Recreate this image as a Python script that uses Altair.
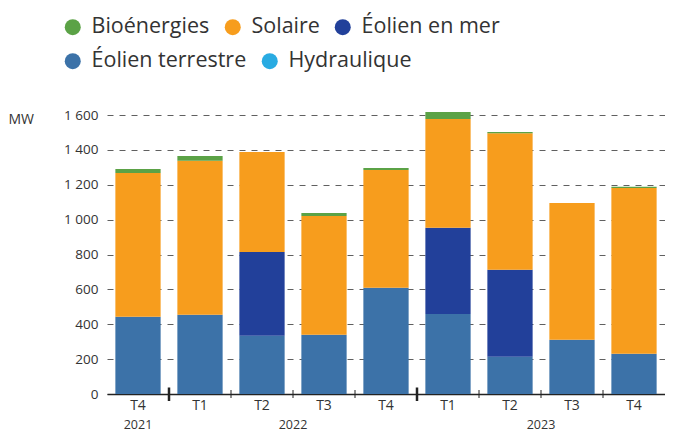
import altair as alt
import pandas as pd

periods = ["T4 2021", "T1 2022", "T2 2022", "T3 2022", "T4 2022",
           "T1 2023", "T2 2023", "T3 2023", "T4 2023"]
eolien_terrestre = [443, 454, 334, 340, 609, 459, 214, 311, 231]
eolien_mer = [0, 0, 481, 0, 0, 494, 498, 0, 0]
solaire = [825, 883, 573, 681, 675, 624, 784, 785, 951]
bioenergies = [23, 28, 0, 17, 12, 40, 6, 0, 6]
hydraulique = [0, 0, 0, 0, 0, 0, 0, 0, 0]

filieres = ["Bioénergies", "Solaire", "Éolien en mer", "Éolien terrestre", "Hydraulique"]
colors = ["#5ba246", "#f79d1d", "#22409a", "#3c72a8", "#29abe2"]
legend_row1 = ["Bioénergies", "Solaire", "Éolien en mer"]
legend_row2 = ["Éolien terrestre", "Hydraulique"]
row2_colors = ["#3c72a8", "#29abe2"]
stack_rank = {"Éolien terrestre": 0, "Hydraulique": 1, "Éolien en mer": 2,
              "Solaire": 3, "Bioénergies": 4}

series = {
    "Éolien terrestre": eolien_terrestre,
    "Éolien en mer": eolien_mer,
    "Solaire": solaire,
    "Bioénergies": bioenergies,
    "Hydraulique": hydraulique,
}

rows = []
for name, vals in series.items():
    for p, v in zip(periods, vals):
        rows.append({"period": p, "filiere": name, "mw": v, "rank": stack_rank[name]})
df = pd.DataFrame(rows)

year_tick = ["T1 2022", "T1 2023"]
quarter_tick = ["T2 2022", "T3 2022", "T4 2022", "T2 2023", "T3 2023", "T4 2023"]
years_center = [{"period": "T4 2021", "year": "2021"}]
years_boundary = [{"period": "T3 2022", "year": "2022"}, {"period": "T3 2023", "year": "2023"}]

W, H = 558, 279
x_scale = alt.Scale(domain=periods, paddingInner=0.27, paddingOuter=0.135)
half_gap = -(0.27 * W / 9) / 2
FONT = "Open Sans"

legend_common = dict(title=None, orient="none", direction="horizontal",
                     symbolType="circle", symbolSize=256, symbolStrokeWidth=0,
                     symbolOpacity=1, labelFontSize=21.5, labelColor="#333333",
                     labelOffset=8, columnPadding=12, labelLimit=400)

bars = alt.Chart(df).transform_filter("datum.mw > 0").mark_bar().encode(
    x=alt.X("period:N", scale=x_scale, sort=periods,
            axis=alt.Axis(title=None, labelAngle=0, ticks=False, domain=True,
                          domainColor="#222222", domainWidth=1.5,
                          labelExpr="split(datum.label, ' ')[0]",
                          labelFontSize=14, labelColor="#333333", labelPadding=4,
                          grid=False)),
    y=alt.Y("mw:Q", stack="zero",
            scale=alt.Scale(domain=[0, 1600], nice=False),
            axis=alt.Axis(values=[0, 200, 400, 600, 800, 1000, 1200, 1400, 1600],
                          title="MW", titleAngle=0, titleX=-99, titleY=4,
                          titleAlign="left", titleBaseline="middle",
                          titleFontSize=14, titleFontWeight="normal", titleColor="#333333",
                          labelExpr="datum.value >= 1000 ? floor(datum.value/1000) + ' ' + slice(format(datum.value, 'd'), -3) : datum.label",
                          labelFontSize=13.5, labelColor="#333333", labelPadding=9,
                          ticks=False, domain=False,
                          grid=True, gridDash=[6, 6], gridColor="#606060", gridWidth=1)),
    color=alt.Color("filiere:N",
                    scale=alt.Scale(domain=filieres, range=colors),
                    legend=alt.Legend(legendX=-45, legendY=-99, values=legend_row1,
                                      **legend_common)),
    order=alt.Order("rank:Q", sort="ascending"),
)

legend2 = alt.Chart(pd.DataFrame({"filiere": legend_row2})).mark_point(
    size=0, opacity=0, filled=True
).encode(
    fill=alt.Fill("filiere:N",
                  scale=alt.Scale(domain=legend_row2, range=row2_colors),
                  legend=alt.Legend(legendX=-45, legendY=-65, **legend_common)),
)

thick = alt.Chart(pd.DataFrame({"period": year_tick})).mark_rule(
    color="#222222", strokeWidth=2.5, xOffset=half_gap
).encode(
    x=alt.X("period:N", scale=x_scale, sort=periods, bandPosition=0),
    y=alt.value(H - 6.5), y2=alt.value(H + 7),
)
thin = alt.Chart(pd.DataFrame({"period": quarter_tick})).mark_rule(
    color="#222222", strokeWidth=1, xOffset=half_gap
).encode(
    x=alt.X("period:N", scale=x_scale, sort=periods, bandPosition=0),
    y=alt.value(H - 4), y2=alt.value(H + 4),
)
year_c = alt.Chart(pd.DataFrame(years_center)).mark_text(
    fontSize=12.5, color="#333333", baseline="middle", align="center"
).encode(
    x=alt.X("period:N", scale=x_scale, sort=periods, bandPosition=0.5),
    y=alt.value(H + 31), text="year:N",
)
year_b = alt.Chart(pd.DataFrame(years_boundary)).mark_text(
    fontSize=12.5, color="#333333", baseline="middle", align="center", xOffset=half_gap
).encode(
    x=alt.X("period:N", scale=x_scale, sort=periods, bandPosition=0),
    y=alt.value(H + 31), text="year:N",
)

chart = alt.layer(bars, legend2, thick, thin, year_c, year_b).properties(
    width=W, height=H,
    padding={"left": 99, "top": 107, "right": 0, "bottom": 40},
    autosize=alt.AutoSizeParams(type="none"),
).resolve_scale(color="independent", fill="independent").configure(
    font=FONT).configure_view(stroke=None)

chart.save("out.html", embed_options={"renderer": "svg", "actions": False})
